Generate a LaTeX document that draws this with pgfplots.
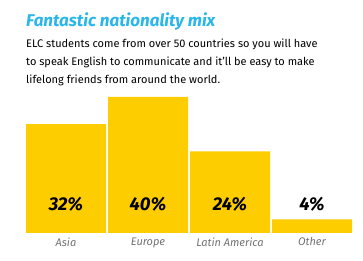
\documentclass[border=0pt]{standalone}
\usepackage{pgfplots}
\pgfplotsset{compat=1.18}
\usepackage{fontspec}
\setmainfont{Fira Sans}
\definecolor{barY}{RGB}{253,205,0}
\definecolor{titC}{RGB}{41,182,233}
\definecolor{labG}{RGB}{115,115,115}
\begin{document}
\begin{tikzpicture}[x=1pt,y=1pt]
\path[use as bounding box] (0,0) rectangle (363,261);
\node[anchor=base west, inner sep=0, text=titC, font=\fontsize{17}{20}\selectfont\bfseries\itshape] at (26,234.3) {Fantastic nationality mix};
\node[anchor=base west, inner sep=0, font=\fontsize{11}{12}\selectfont] at (26,213.3) {ELC students come from over 50 countries so you will have};
\node[anchor=base west, inner sep=0, font=\fontsize{11}{12}\selectfont] at (26,195.3) {to speak English to communicate and it'll be easy to make};
\node[anchor=base west, inner sep=0, font=\fontsize{11}{12}\selectfont] at (26,177.8) {lifelong friends from around the world.};
\begin{axis}[at={(25pt,28pt)}, anchor=south west, scale only axis,
  width=328pt, height=136pt, xmin=-0.5, xmax=3.5, ymin=0, ymax=40,
  axis line style={draw=none}, ytick=\empty,
  xtick={0,1,2,3}, xticklabels={Asia,Europe,Latin America,Other},
  major tick length=0pt,
  xticklabel style={font=\fontsize{11}{12}\selectfont\itshape, text=labG, yshift=-1pt},
  clip=false]
\addplot[ybar, bar width=80pt, fill=barY, draw=none] coordinates {(0,32) (1,40) (2,24) (3,4)};
\addplot[draw=none, mark=none, nodes near coords, point meta=explicit symbolic,
  every node near coord/.style={anchor=center, font=\fontsize{18.5}{20}\selectfont\bfseries\itshape, text=black}]
  coordinates {(0,8.5)[32\%] (1,8.5)[40\%] (2,8.5)[24\%] (3,8.5)[4\%]};
\end{axis}
\end{tikzpicture}
\end{document}
